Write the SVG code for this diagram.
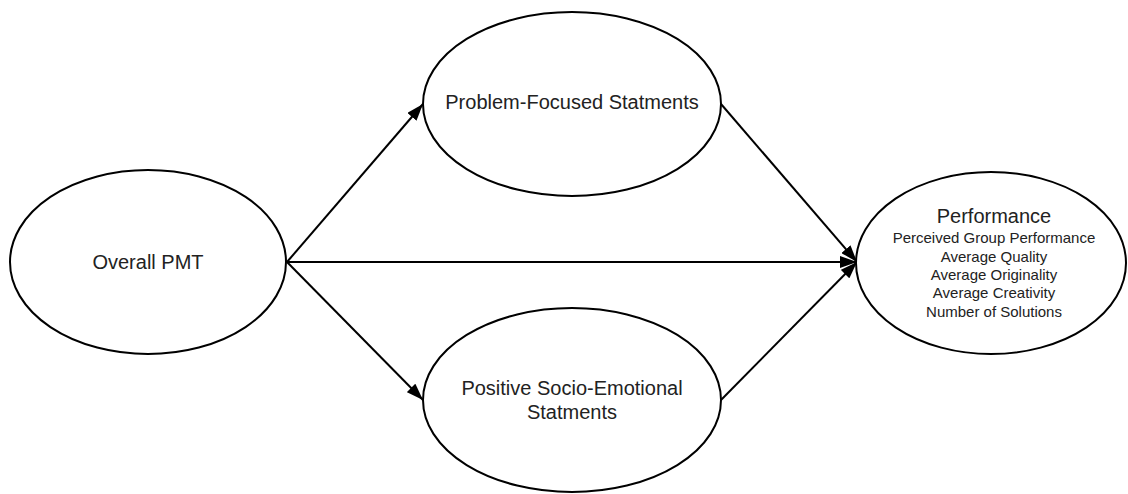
<svg xmlns="http://www.w3.org/2000/svg" width="1128" height="494" viewBox="0 0 1128 494">
  <style>
    .node { fill: #ffffff; stroke: #000000; stroke-width: 2; }
    .edge { stroke: #000000; stroke-width: 2; fill: none; }
    .t { font-family: "Liberation Sans", Arial, sans-serif; fill: #222222; text-anchor: middle; }
    .big { font-size: 20px; }
    .small { font-size: 15px; }
  </style>
  <defs>
    <marker id="arrow" markerUnits="userSpaceOnUse" markerWidth="17" markerHeight="12" refX="17" refY="6" orient="auto">
      <path d="M0,0 L17,6 L0,12 z" fill="#000000"/>
    </marker>
  </defs>
  <rect width="1128" height="494" fill="#ffffff"/>
  <g id="connectors">
    <line class="edge" x1="287" y1="262" x2="423" y2="104" marker-end="url(#arrow)"/>
    <line class="edge" x1="287" y1="262" x2="423" y2="400" marker-end="url(#arrow)"/>
    <line class="edge" x1="287" y1="262" x2="857" y2="262" marker-end="url(#arrow)"/>
    <line class="edge" x1="721" y1="104" x2="857" y2="262" marker-end="url(#arrow)"/>
    <line class="edge" x1="721" y1="400" x2="857" y2="262" marker-end="url(#arrow)"/>
  </g>
  <g id="overall-pmt">
    <ellipse class="node" cx="148" cy="262" rx="138" ry="92"/>
    <text class="t big" x="148" y="269">Overall PMT</text>
  </g>
  <g id="problem-focused">
    <ellipse class="node" cx="572" cy="104" rx="149" ry="92"/>
    <text class="t big" x="572" y="109">Problem-Focused Statments</text>
  </g>
  <g id="positive-socio-emotional">
    <ellipse class="node" cx="572" cy="400" rx="149" ry="92"/>
    <text class="t big" x="572" y="395">Positive Socio-Emotional</text>
    <text class="t big" x="572" y="419">Statments</text>
  </g>
  <g id="performance">
    <ellipse class="node" cx="991" cy="263" rx="135" ry="91"/>
    <text class="t big" x="994" y="223">Performance</text>
    <text class="t small" x="994" y="243">Perceived Group Performance</text>
    <text class="t small" x="994" y="262">Average Quality</text>
    <text class="t small" x="994" y="280">Average Originality</text>
    <text class="t small" x="994" y="298">Average Creativity</text>
    <text class="t small" x="994" y="317">Number of Solutions</text>
  </g>
</svg>
